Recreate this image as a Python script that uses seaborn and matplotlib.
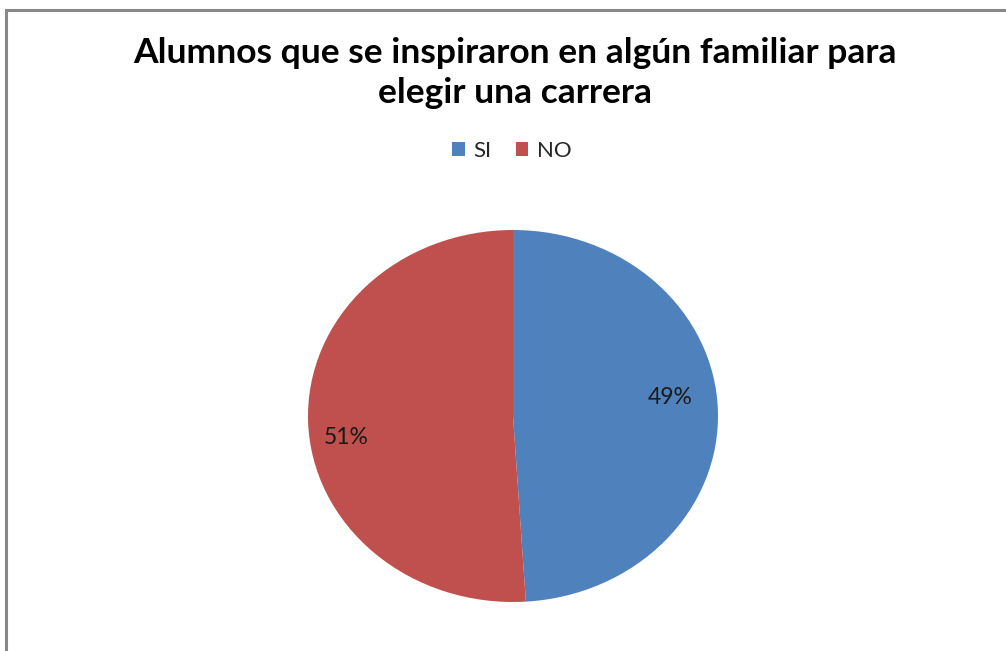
import matplotlib
matplotlib.use("Agg")
import matplotlib.pyplot as plt
import matplotlib.patches as mpatches
import seaborn as sns

# datos
categorias = ["SI", "NO"]
valores = [49, 51]
colores = ["#4F81BD", "#C0504D"]
titulo = "Alumnos que se inspiraron en algún familiar para\nelegir una carrera"

sns.set_style("white")
plt.rcParams['font.family'] = ['Lato', 'DejaVu Sans']

W, H = 1006, 651
fig = plt.figure(figsize=(W / 100, H / 100), dpi=100)

# marco gris del gráfico
marco = mpatches.Rectangle((6 / W, -0.1), 1.2, 1 - 10 / H + 0.1, transform=fig.transFigure,
                           fill=False, edgecolor="#888888", linewidth=2.2)
fig.patches.append(marco)

# ejes del pastel (elipse como en Excel)
ax = fig.add_axes([308 / W, 1 - 602 / H, 410 / W, 372 / H])
wedges, textos = ax.pie(valores, colors=colores, startangle=90, counterclock=False,
                        wedgeprops=dict(linewidth=0))
ax.set_aspect("auto")
ax.set_xlim(-1, 1)
ax.set_ylim(-1, 1)
ax.axis("off")

# etiquetas de porcentaje
pos_etiquetas = [(0.766, 0.10), (-0.815, -0.118)]
for v, (x, y) in zip(valores, pos_etiquetas):
    ax.text(x, y, f"{v}%", ha="center", va="center", fontsize=16.5, color="#1a1a1a")

# título
fig.text(515 / W, 1 - 37 / H, titulo, ha="center", va="top", fontsize=25.5,
         fontweight="bold", linespacing=1.3, color="black")

# leyenda
fig.legend(wedges, categorias, loc="center", bbox_to_anchor=(512 / W, 1 - 151 / H),
           ncol=2, frameon=False, fontsize=16, handlelength=0.55, handleheight=0.55,
           handletextpad=0.4, columnspacing=1.1)

fig.savefig("out.png", dpi=100)
